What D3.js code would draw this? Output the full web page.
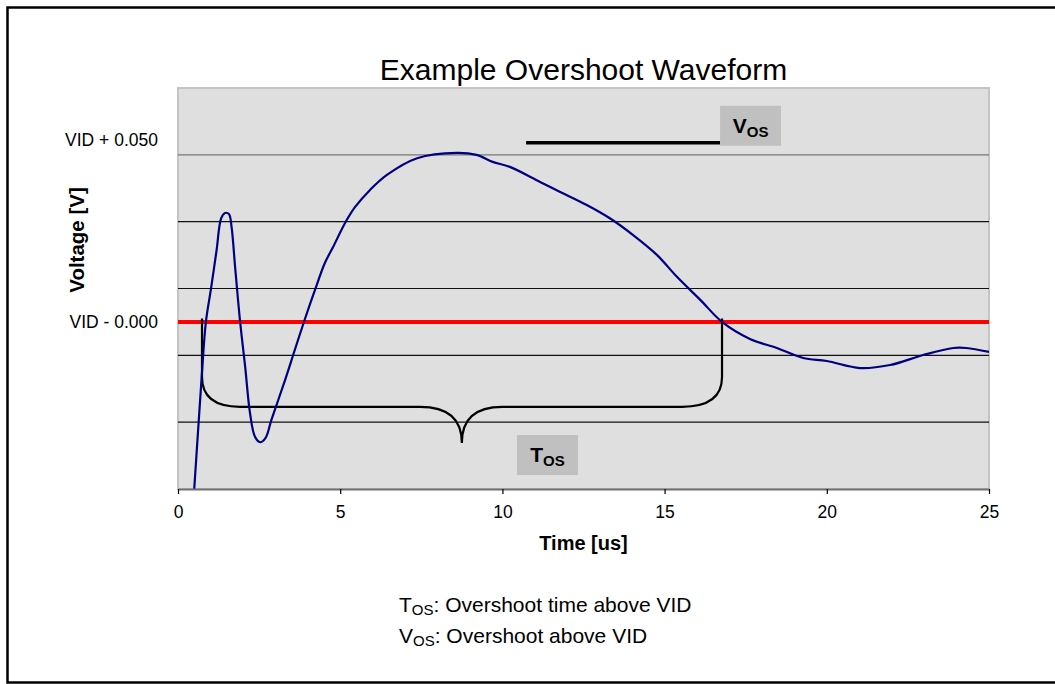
<html>
<head>
<script src="https://d3js.org/d3.v7.min.js"></script>
<style>
  body { margin: 0; background: #fff; }
  text { font-family: "Liberation Sans", Arial, sans-serif; }
</style>
</head>
<body>
<svg width="1055" height="684"></svg>
<script>
// waveform samples: time [us] and voltage relative to VID [V]
var times = [0.45, 0.50, 0.73, 0.86, 1.02, 1.19, 1.33, 1.45, 1.57, 1.65, 1.76, 1.91, 2.07, 2.22, 2.37, 2.53,
             2.70, 2.88, 3.30, 3.60, 3.90, 4.22, 4.53, 4.78, 5.15, 5.46, 5.92, 6.44, 7.37, 8.60, 9.20,
             9.70, 10.23, 11.16, 11.78, 12.60, 13.30, 14.03, 14.77, 15.38, 16.10, 16.77, 17.63, 18.46,
             19.27, 20.00, 21.02, 21.95, 22.97, 23.90, 24.30, 25.00];
var volts = [-0.056, -0.050, -0.0164, 0.0, 0.0101, 0.0215, 0.0310, 0.0326, 0.0323, 0.0285, 0.0165, 0.0005,
             -0.0134, -0.0273, -0.0343, -0.0360, -0.0347, -0.0293, -0.0174, -0.0084, 0.0005, 0.0095, 0.0177,
             0.0224, 0.0296, 0.0344, 0.0395, 0.0440, 0.0490, 0.0506, 0.0500, 0.0479, 0.0464, 0.0419, 0.0389,
             0.0350, 0.0311, 0.0260, 0.0200, 0.0135, 0.0066, 0.0, -0.0051, -0.0078, -0.0108, -0.0117,
             -0.0138, -0.0129, -0.0099, -0.0078, -0.0078, -0.0090];

var xTicks = [0, 5, 10, 15, 20, 25];
var yTickValues = [0.05, 0];
var yTickLabels = ["VID + 0.050", "VID - 0.000"];
var gridValues = [-0.03, -0.01, 0.01, 0.03, 0.05];
var vidLevel = 0;

// T_OS brace: x stops and y stops in data units
var braceX = [0.74, 1.91, 7.46, 8.75, 10.0, 15.54, 16.77];
var braceY = [0.001, -0.0165, -0.0254, -0.0362];
// V_OS marker line
var vosX = [10.73, 16.71];
var vosY = 0.0536;

var plotL = 178, plotR = 989, plotT = 88, plotB = 489;

var x = d3.scaleLinear().domain([0, 25]).range([plotL, plotR]);
var y = d3.scaleLinear().domain([-0.05, 0.07]).range([plotB, plotT]);

var svg = d3.select("svg");

// outer frame
svg.append("rect")
    .attr("x", 7.5).attr("y", 7.5)
    .attr("width", 1070).attr("height", 675)
    .style("fill", "none").style("stroke", "#000").style("stroke-width", 2.5);

// plot area
svg.append("rect")
    .attr("x", plotL).attr("y", plotT)
    .attr("width", plotR - plotL).attr("height", plotB - plotT)
    .style("fill", "#dfdfdf").style("stroke", "#c4c4c4").style("stroke-width", 2);

svg.append("defs").append("clipPath").attr("id", "plot")
    .append("rect")
    .attr("x", plotL).attr("y", plotT)
    .attr("width", plotR - plotL).attr("height", plotB - plotT);

// gridlines
svg.append("g").selectAll("line")
    .data(gridValues)
    .enter().append("line")
    .attr("x1", plotL).attr("x2", plotR)
    .attr("y1", function(d) { return y(d); })
    .attr("y2", function(d) { return y(d); })
    .style("stroke", function(d) { return d === 0.05 ? "#777" : "#111"; })
    .style("stroke-width", 1.2);

// VID line
svg.append("line")
    .attr("x1", plotL).attr("x2", plotR)
    .attr("y1", y(vidLevel)).attr("y2", y(vidLevel))
    .style("stroke", "#ff0000").style("stroke-width", 4);

// brace for T_OS
var bx = braceX.map(x), by = braceY.map(y);
var p = d3.path();
p.moveTo(bx[0], by[0]);
p.lineTo(bx[0], by[1]);
p.quadraticCurveTo(bx[0], by[2], bx[1], by[2]);
p.lineTo(bx[2], by[2]);
p.quadraticCurveTo(bx[3], by[2], bx[3], by[3]);
p.quadraticCurveTo(bx[3], by[2], bx[4], by[2]);
p.lineTo(bx[5], by[2]);
p.quadraticCurveTo(bx[6], by[2], bx[6], by[1]);
p.lineTo(bx[6], by[0]);
svg.append("path")
    .attr("d", p.toString())
    .style("fill", "none").style("stroke", "#000").style("stroke-width", 2.2);

// waveform
var line = d3.line()
    .x(function(d) { return x(d[0]); })
    .y(function(d) { return y(d[1]); })
    .curve(d3.curveCatmullRom);

svg.append("path")
    .datum(d3.zip(times, volts))
    .attr("clip-path", "url(#plot)")
    .attr("d", line)
    .style("fill", "none").style("stroke", "#000080").style("stroke-width", 2.2);

// V_OS marker
svg.append("line")
    .attr("x1", x(vosX[0])).attr("x2", x(vosX[1]))
    .attr("y1", y(vosY)).attr("y2", y(vosY))
    .style("stroke", "#000").style("stroke-width", 3.5);

function subLabel(cx, cy, main) {
    svg.append("rect")
        .attr("x", cx).attr("y", cy)
        .attr("width", 61).attr("height", 40)
        .style("fill", "#c0c0c0");
    var t = svg.append("text")
        .attr("x", cx + 30.5).attr("y", cy + 27)
        .attr("text-anchor", "middle")
        .style("font-weight", "bold").style("font-size", "21px");
    t.append("tspan").text(main);
    t.append("tspan").attr("dy", 4).style("font-size", "15px").text("OS");
}
subLabel(x(vosX[1]), y(vosY) - 37, "V");
subLabel(517, 435, "T");

// x axis
var xAxis = svg.append("g")
    .attr("transform", "translate(0," + plotB + ")")
    .call(d3.axisBottom(x).tickValues(xTicks).tickSize(5).tickPadding(12).tickSizeOuter(0));
xAxis.select(".domain").style("stroke", "#707070").style("stroke-width", 2);
xAxis.selectAll(".tick line").style("stroke", "#000").style("stroke-width", 1.2);
xAxis.selectAll("text")
    .style("font-family", "'Liberation Sans', Arial, sans-serif")
    .style("font-size", "17.5px").style("fill", "#000");

// y axis labels
var yAxis = svg.append("g")
    .attr("transform", "translate(" + plotL + ",0)")
    .call(d3.axisLeft(y).tickValues(yTickValues).tickSize(0).tickPadding(20)
        .tickFormat(function(d, i) { return yTickLabels[i]; }));
yAxis.select(".domain").remove();
yAxis.selectAll("text")
    .style("font-family", "'Liberation Sans', Arial, sans-serif")
    .style("font-size", "17.5px").style("fill", "#000")
    .attr("dy", function(d) { return d === 0.05 ? "-0.55em" : "0.32em"; });

// titles
svg.append("text")
    .attr("x", (plotL + plotR) / 2).attr("y", 80)
    .attr("text-anchor", "middle")
    .style("font-size", "30px")
    .text("Example Overshoot Waveform");

svg.append("text")
    .attr("x", (plotL + plotR) / 2).attr("y", 550)
    .attr("text-anchor", "middle")
    .style("font-size", "20px").style("font-weight", "bold")
    .text("Time [us]");

svg.append("text")
    .attr("transform", "translate(84,240) rotate(-90)")
    .attr("text-anchor", "middle")
    .style("font-size", "20.5px").style("font-weight", "bold")
    .text("Voltage [V]");

// footnotes
var notes = [["T", ": Overshoot time above VID"], ["V", ": Overshoot above VID"]];
notes.forEach(function(n, i) {
    var t = svg.append("text")
        .attr("x", 399).attr("y", 612 + i * 31)
        .style("font-size", "21px");
    t.append("tspan").text(n[0]);
    t.append("tspan").attr("dy", 3).style("font-size", "15px").text("OS");
    t.append("tspan").attr("dy", -3).text(n[1]);
});
</script>
</body>
</html>
